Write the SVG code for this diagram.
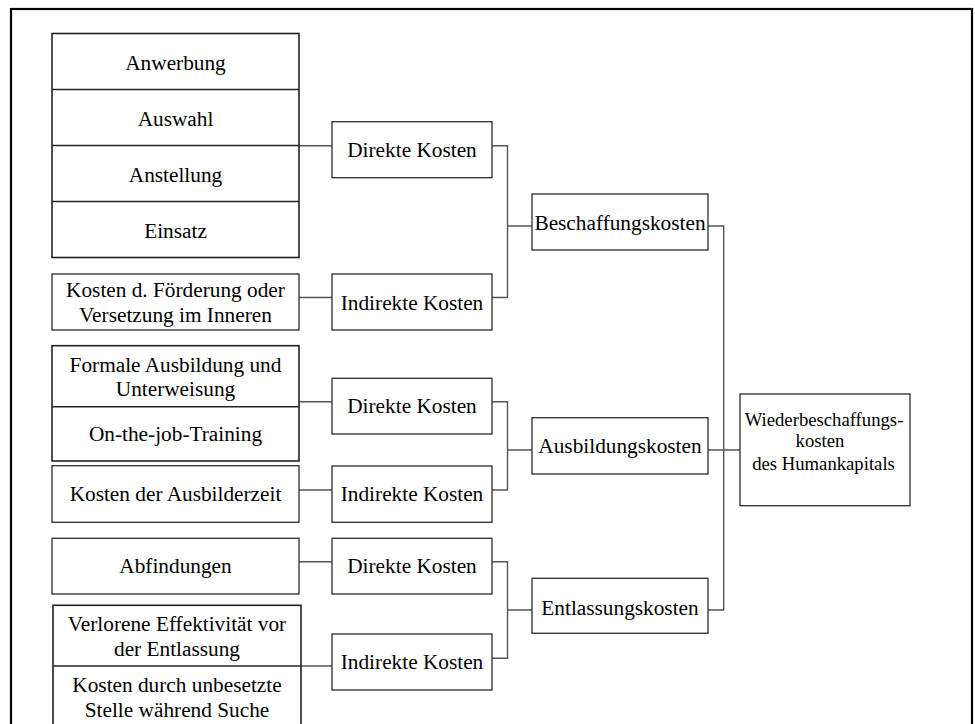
<svg xmlns="http://www.w3.org/2000/svg" width="975" height="724" viewBox="0 0 975 724">
<style>
.bx{fill:#fff;stroke:#3a3a3a;stroke-width:1.4}
.st{fill:#fff;stroke:#222;stroke-width:1.6}
.dv{stroke:#222;stroke-width:1.6}
.cn{fill:none;stroke:#555;stroke-width:1.4}
text{font-family:"Liberation Serif","Times New Roman",serif;font-size:21.3px;fill:#000;text-anchor:middle}
.sm{font-size:18.7px}
</style>
<rect x="0" y="0" width="975" height="724" fill="#fff"/>
<rect x="11" y="9" width="961" height="740" fill="none" stroke="#000" stroke-width="2.2"/>

<g id="connectors">
<path class="cn" d="M299 145.7H332M299 297.5H332M299 401.7H332M299 490H332M299 561.7H332M301 666H332"/>
<path class="cn" d="M492 145.7H507.5V297.5H492M507.5 226H532"/>
<path class="cn" d="M492 401.7H507.5V490H492M507.5 450H532"/>
<path class="cn" d="M492 561.7H507.5V658.3H492M507.5 610H532"/>
<path class="cn" d="M708 226H723.7V610H708M708 450H740"/>
</g>

<g id="beschaffung-direkt-liste">
<rect class="st" x="52" y="33.5" width="247" height="224"/>
<line class="dv" x1="52" y1="89.5" x2="299" y2="89.5"/>
<line class="dv" x1="52" y1="145.5" x2="299" y2="145.5"/>
<line class="dv" x1="52" y1="201.5" x2="299" y2="201.5"/>
<text x="175.5" y="70">Anwerbung</text>
<text x="175.5" y="126">Auswahl</text>
<text x="175.5" y="182">Anstellung</text>
<text x="175.5" y="238">Einsatz</text>
</g>
<g id="beschaffung-indirekt-liste">
<rect class="bx" x="52" y="274" width="247" height="56"/>
<text x="175.5" y="296.7">Kosten d. Förderung oder</text>
<text x="175.5" y="321.7">Versetzung im Inneren</text>
</g>
<g id="ausbildung-direkt-liste">
<rect class="st" x="52" y="345.7" width="247" height="115.3"/>
<line class="dv" x1="52" y1="406.7" x2="299" y2="406.7"/>
<text x="175.5" y="371.7">Formale Ausbildung und</text>
<text x="175.5" y="396">Unterweisung</text>
<text x="175.5" y="440.7">On-the-job-Training</text>
</g>
<g id="ausbildung-indirekt-liste">
<rect class="bx" x="52" y="465.7" width="247" height="56.6"/>
<text x="175.5" y="500.7">Kosten der Ausbilderzeit</text>
</g>
<g id="entlassung-direkt-liste">
<rect class="bx" x="52" y="538.3" width="247" height="55.7"/>
<text x="175.5" y="573.3">Abfindungen</text>
</g>
<g id="entlassung-indirekt-liste">
<rect class="st" x="53" y="605.3" width="248" height="140"/>
<line class="dv" x1="53" y1="666" x2="301" y2="666"/>
<text x="177" y="631">Verlorene Effektivität vor</text>
<text x="177" y="656">der Entlassung</text>
<text x="177" y="691.7">Kosten durch unbesetzte</text>
<text x="177" y="716.7">Stelle während Suche</text>
</g>

<g id="direkt1">
<rect class="bx" x="332" y="121.7" width="160" height="56"/>
<text x="412" y="157.3">Direkte Kosten</text>
</g>
<g id="indirekt1">
<rect class="bx" x="332" y="274" width="160" height="56"/>
<text x="412" y="310">Indirekte Kosten</text>
</g>
<g id="direkt2">
<rect class="bx" x="332" y="378.3" width="160" height="55.7"/>
<text x="412" y="413.3">Direkte Kosten</text>
</g>
<g id="indirekt2">
<rect class="bx" x="332" y="466" width="160" height="56.3"/>
<text x="412" y="500.7">Indirekte Kosten</text>
</g>
<g id="direkt3">
<rect class="bx" x="332" y="538.3" width="160" height="55.7"/>
<text x="412" y="573.3">Direkte Kosten</text>
</g>
<g id="indirekt3">
<rect class="bx" x="332" y="634" width="160" height="56"/>
<text x="412" y="669.3">Indirekte Kosten</text>
</g>

<g id="beschaffungskosten">
<rect class="bx" x="532" y="194" width="176" height="56"/>
<text x="620" y="230">Beschaffungskosten</text>
</g>
<g id="ausbildungskosten">
<rect class="bx" x="532" y="417.7" width="176" height="56.3"/>
<text x="620" y="453.3">Ausbildungskosten</text>
</g>
<g id="entlassungskosten">
<rect class="bx" x="532" y="578.3" width="176" height="55"/>
<text x="620" y="615">Entlassungskosten</text>
</g>

<g id="wiederbeschaffungskosten">
<rect class="bx" x="740" y="394" width="170" height="111.7"/>
<text class="sm" x="824" y="425.7">Wiederbeschaffungs-</text>
<text class="sm" x="820" y="447.3">kosten</text>
<text class="sm" x="823.5" y="470">des Humankapitals</text>
</g>
</svg>
